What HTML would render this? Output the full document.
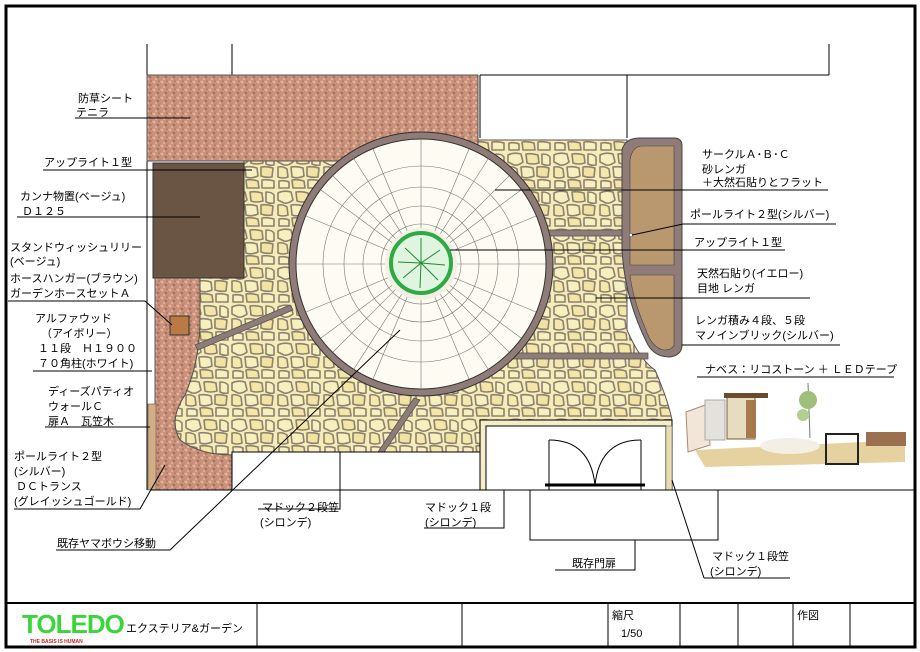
<!DOCTYPE html>
<html><head><meta charset="utf-8"><style>
html,body{margin:0;padding:0;background:#fff}
svg{display:block}
text{font-family:"Liberation Sans","Noto Sans CJK JP",sans-serif;font-size:11px;fill:#000}
</style></head><body>
<svg width="920" height="652" viewBox="0 0 920 652" xmlns="http://www.w3.org/2000/svg">
<defs>
<pattern id="grav" width="8" height="8" patternUnits="userSpaceOnUse">
<rect width="8" height="8" fill="#c9907a"/>
<circle cx="2" cy="2" r="1.4" fill="#e8b49a"/><circle cx="6" cy="5" r="1.3" fill="#a87060"/>
<circle cx="4" cy="7" r="1" fill="#ddb8aa"/><circle cx="7" cy="1" r="0.8" fill="#9a6a5a"/>
</pattern>
<pattern id="stone" width="46" height="38" patternUnits="userSpaceOnUse">
<rect width="46" height="38" fill="#f6ecb8"/>
<g fill="#f8efbe" stroke="#8d8270" stroke-width="1.6" stroke-linejoin="round">
<path d="M2 3 Q8 0 15 2 L17 10 Q12 14 8 13 L2 10Z"/>
<path d="M20 2 Q26 1 32 3 L33 11 Q26 13 21 11Z" fill="#f3e6a6"/>
<path d="M36 2 Q42 2 44 5 L44 13 Q40 14 36 12Z"/>
<path d="M2 15 Q7 14 11 17 L12 25 Q7 27 2 25Z" fill="#f4e8ad"/>
<path d="M15 15 Q22 14 27 16 L28 24 Q21 27 16 25Z"/>
<path d="M31 15 Q37 14 43 16 L42 25 Q36 26 31 24Z" fill="#f1e3a2"/>
<path d="M3 29 Q9 28 13 30 L13 36 L3 36Z"/>
<path d="M16 28 Q22 27 28 29 L29 36 L17 36Z" fill="#f3e6a6"/>
<path d="M32 28 Q38 27 44 29 L44 36 L32 36Z"/>
</g>
</pattern>
</defs>
<rect x="0" y="0" width="920" height="652" fill="#fff"/>
<rect x="6" y="6" width="909" height="641" fill="none" stroke="#000" stroke-width="3"/>

<g stroke="#000" stroke-width="1" fill="none">
<path d="M147 44 V490"/><path d="M232 44 V75"/><path d="M829 44 V75"/>
<path d="M480 75 H829"/><path d="M627 75 V138"/><path d="M480 75 V138"/>
</g>

<path d="M244 140 H627 L627 330 Q640 360 655 370 Q668 400 672 420 L480 420 V452 L232 452 L232 455 Q200 455 180 440 Q168 420 185 395 Q200 360 200 320 V278 H244Z" fill="url(#stone)" stroke="#555" stroke-width="1"/>
<rect x="147" y="75" width="331" height="86" fill="url(#grav)" stroke="#555"/>
<path d="M155 278 H200 V320 Q200 360 185 395 Q168 420 180 440 Q200 455 232 455 V490 H155Z" fill="url(#grav)" stroke="#555"/>
<rect x="153" y="163" width="91" height="115" fill="#6a5444" stroke="#333"/>
<rect x="148" y="404" width="8" height="86" fill="#d3ae82" stroke="#555" stroke-width="0.6"/>
<rect x="170" y="316" width="19" height="19" fill="#b97a45" stroke="#333"/>

<g fill="#8f7c78" stroke="#555" stroke-width="0.8">
<rect x="548" y="230" width="74" height="6"/>
<rect x="510" y="353" width="138" height="6"/>
<path d="M195 345 L290 305 L293 310 L198 350Z"/>
<path d="M378 452 L414 398 L420 400 L384 452Z"/>
</g>

<path d="M640 138 H674 Q682 138 682 146 V345 Q682 355 670 357 Q655 357 648 345 Q625 300 622 250 V150 Q625 138 640 138Z" fill="#8f7c78" stroke="#444"/>
<path d="M643 146 H674 V265 H630 V160 Q632 146 643 146Z" fill="#b99870" stroke="#444" stroke-width="0.6"/>
<path d="M630 275 H674 V345 Q672 350 664 350 Q652 348 646 330 Q633 300 630 275Z" fill="#b99870" stroke="#444" stroke-width="0.6"/>
<circle cx="631" cy="235" r="1.8" fill="#fff" stroke="#333" stroke-width="0.5"/>

<circle cx="421" cy="264" r="132" fill="#8f7c78" stroke="#333"/>
<circle cx="421" cy="264" r="125" fill="#fdfbf2" stroke="#333"/>
<g stroke="#777" stroke-width="0.6" fill="none">
<circle cx="421" cy="264" r="40"/><circle cx="421" cy="264" r="58"/><circle cx="421" cy="264" r="77"/><circle cx="421" cy="264" r="98"/>
<path d="M296 264H546M421 139V389M333 176L509 352M333 352L509 176M306 216L536 312M306 312L536 216M373 149L469 379M469 149L373 379M321 190L521 338M321 338L521 190M352 156L490 372M490 156L352 372"/>
</g>
<circle cx="421" cy="264" r="36" fill="#f3efe4"/>
<circle cx="421" cy="263" r="30" fill="#dff5e0" stroke="#2eaa44" stroke-width="4"/>
<g stroke="#1e8a30" stroke-width="1" fill="none">
<path d="M421 263 L405 248M421 263 L440 250M421 263 L438 280M421 263 L403 278M421 263 L421 238M421 263 L445 265M421 263 L398 262M421 263 L420 288"/>
</g>

<g fill="#fff" stroke="#000" stroke-width="1">
<rect x="232" y="452" width="248" height="38"/>
<rect x="480" y="420" width="192" height="70" fill="#f5edc8"/>
<rect x="486" y="426" width="180" height="64"/>
</g>
<rect x="666" y="426" width="6" height="64" fill="#e8dcb0" stroke="#555" stroke-width="0.5"/>
<g stroke="#000" fill="none" stroke-width="1">
<path d="M549 440 V490 M641 440 V490"/>
<path d="M549 440 Q590 440 595 485 M641 440 Q600 440 595 485"/>
<path d="M545 485 H645" stroke-width="3"/>
<path d="M150 490 H916"/>
<path d="M530 490 V540 H718 V490"/>
</g>

<g stroke="#000" stroke-width="1" fill="none">
<path d="M75 118 H190"/><path d="M43 170 H252"/><path d="M17 217 H200"/>
<path d="M8 301 H145 L172 325"/><path d="M33 371 H152"/><path d="M45 427 H150"/>
<path d="M14 509 H140 L165 465"/><path d="M56 550 H170 L400 330"/>
<path d="M258 509 H340 V452"/><path d="M424 528 H504 V490"/><path d="M555 570 H635 V540"/>
<path d="M704 578 H790 M704 578 L672 480"/>
<path d="M495 190 H828"/><path d="M632 235 L683 224 H836"/><path d="M450 250 H785"/>
<path d="M596 298 H810"/><path d="M682 345 H840"/><path d="M697 377 H894"/>
</g>

<text x="78" y="102">防草シート</text><text x="76" y="116">テニラ</text>
<text x="44" y="166">アップライト１型</text>
<text x="20" y="200">カンナ物置(ベージュ)</text><text x="22" y="215">Ｄ１２５</text>
<text x="10" y="251">スタンドウィッシュリリー</text><text x="10" y="265">(ベージュ)</text>
<text x="10" y="282">ホースハンガー(ブラウン)</text><text x="10" y="297">ガーデンホースセットＡ</text>
<text x="35" y="322">アルファウッド</text><text x="41" y="337">（アイボリー）</text>
<text x="38" y="352">１１段　Ｈ１９００</text><text x="38" y="367">７０角柱(ホワイト)</text>
<text x="48" y="395">ディーズパティオ</text><text x="48" y="410">ウォールＣ</text><text x="48" y="425">扉Ａ　瓦笠木</text>
<text x="14" y="460">ポールライト２型</text><text x="14" y="475">(シルバー)</text>
<text x="16" y="490">ＤＣトランス</text><text x="14" y="505">(グレイッシュゴールド)</text>
<text x="57" y="547">既存ヤマボウシ移動</text>
<text x="262" y="511">マドック２段笠</text><text x="260" y="526">(シロンデ)</text>
<text x="425" y="511">マドック１段</text><text x="425" y="526">(シロンデ)</text>
<text x="572" y="567">既存門扉</text>
<text x="712" y="560">マドック１段笠</text><text x="710" y="575">(シロンデ)</text>
<text x="702" y="158">サークルＡ･Ｂ･Ｃ</text><text x="702" y="173">砂レンガ</text><text x="702" y="186">＋大然石貼りとフラット</text>
<text x="690" y="218">ポールライト２型(シルバー)</text>
<text x="694" y="246">アップライト１型</text>
<text x="697" y="277">天然石貼り(イエロー)</text><text x="697" y="292">目地 レンガ</text>
<text x="695" y="324">レンガ積み４段、５段</text><text x="695" y="339">マノインブリック(シルバー)</text>
<text x="705" y="373">ナベス：リコストーン ＋ ＬＥＤテープ</text>

<g>
<path d="M686 412 L708 404 L710 445 L688 452Z" fill="#f1e6d8" stroke="#b08a6a"/>
<path d="M695 450 L905 440 L905 462 L705 467Z" fill="#e6d2a0"/>
<ellipse cx="790" cy="446" rx="30" ry="8" fill="#f4efe4"/>
<rect x="705" y="400" width="20" height="40" fill="#e4e0dc" stroke="#aaa"/>
<rect x="727" y="397" width="28" height="42" fill="#e8dcc0" stroke="#7a5a38"/>
<rect x="746" y="400" width="10" height="38" fill="#a7784a"/>
<path d="M724 393 H768 V398 H724Z" fill="#6b4a30"/>
<path d="M808 383 L810 438" stroke="#777"/>
<circle cx="808" cy="400" r="9" fill="#9ec07a"/><circle cx="803" cy="415" r="6" fill="#b3cf8e"/>
<rect x="826" y="434" width="32" height="30" fill="none" stroke="#222" stroke-width="2"/>
<rect x="866" y="432" width="40" height="14" fill="#9a7050"/>
</g>

<g stroke="#000" fill="none">
<path d="M6 603 H915" stroke-width="2"/>
<path d="M257 603V647M462 603V647M608 603V647M680 603V647M738 603V647M793 603V647M850 603V647"/>
</g>
<text x="22" y="633" style="font-size:26px;fill:#3bd43b;font-weight:bold;letter-spacing:-1px">TOLEDO</text>
<text x="126" y="632">エクステリア&amp;ガーデン</text>
<text x="30" y="643" style="font-size:5px;fill:#c22;font-weight:bold">THE BASIS IS HUMAN</text>
<text x="612" y="619">縮尺</text><text x="621" y="637">1/50</text>
<text x="797" y="619">作図</text>
</svg>
</body></html>
